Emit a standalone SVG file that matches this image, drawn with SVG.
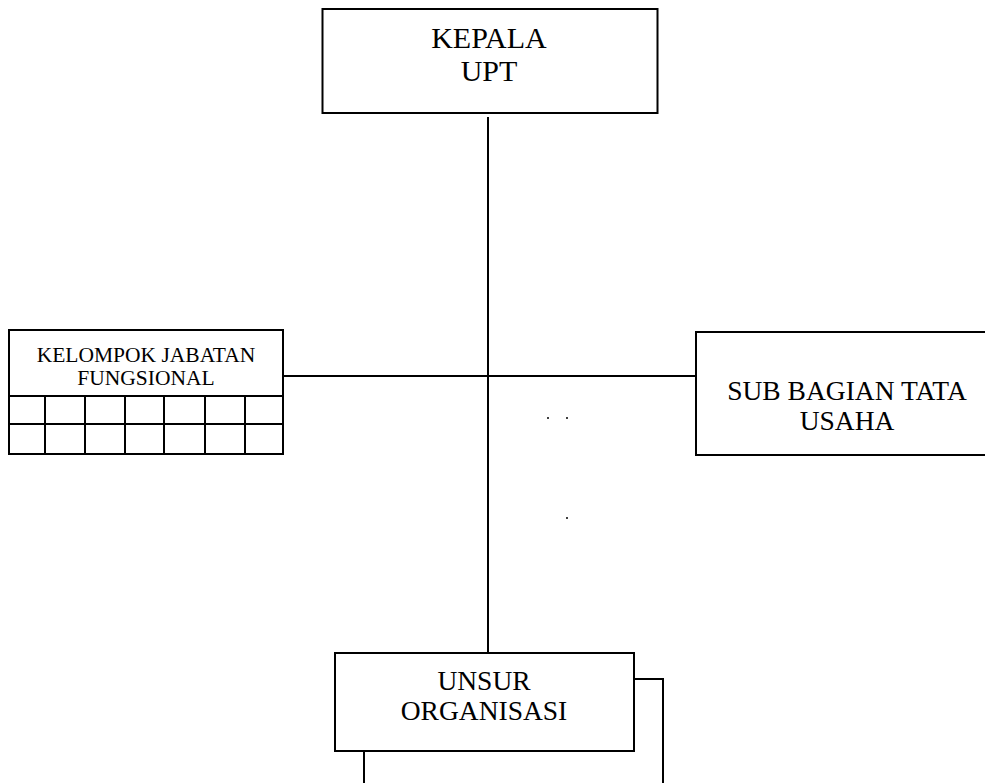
<svg xmlns="http://www.w3.org/2000/svg" width="985" height="783" viewBox="0 0 985 783">
<style>
.box{fill:#fff;stroke:#000;stroke-width:2}
.ln{fill:none;stroke:#000;stroke-width:2}
text{font-family:"Liberation Serif","Times New Roman",serif;fill:#000;text-anchor:middle}
.big{font-size:27.5px}
.top{font-size:30px}
.sm{font-size:21.5px}
</style>
<rect width="985" height="783" fill="#fff"/>
<g id="connectors">
<path class="ln" d="M488 117V653"/>
<path class="ln" d="M283 376H696"/>
<path class="ln" d="M634 679H663V783"/>
<path class="ln" d="M364 751V783"/>
</g>
<g id="kepala">
<rect class="box" x="322.5" y="9" width="335" height="104"/>
<text class="top" x="489" y="48">KEPALA</text>
<text class="top" x="489" y="81">UPT</text>
</g>
<g id="kelompok">
<rect class="box" x="9" y="330" width="274" height="124"/>
<path class="ln" d="M9 396H283M9 424H283M45 396V454M85 396V454M125 396V454M164 396V454M205 396V454M245 396V454"/>
<text class="sm" x="146" y="361.5">KELOMPOK JABATAN</text>
<text class="sm" x="146" y="385">FUNGSIONAL</text>
</g>
<g id="subbagian">
<rect class="box" x="696" y="332" width="300" height="123"/>
<text class="big" x="847" y="400">SUB BAGIAN TATA</text>
<text class="big" x="847" y="430">USAHA</text>
</g>
<g id="unsur">
<rect class="box" x="335" y="653" width="299" height="98"/>
<text class="big" x="484" y="690">UNSUR</text>
<text class="big" x="484" y="720">ORGANISASI</text>
</g>
<g id="dots">
<circle cx="548" cy="418" r="1"/>
<circle cx="567" cy="418" r="1"/>
<circle cx="567" cy="518" r="1"/>
</g>
</svg>
